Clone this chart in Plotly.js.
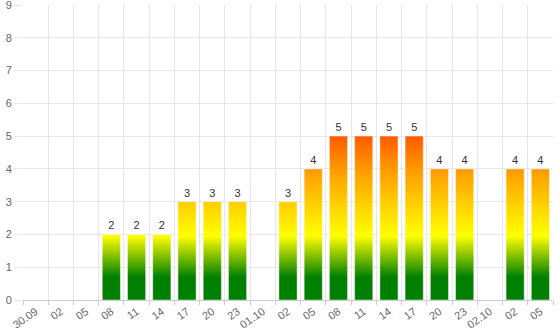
<!DOCTYPE html>
<html>
<head>
<meta charset="utf-8">
<script src="https://cdn.plot.ly/plotly-3.0.1.min.js"></script>
<style>html,body{margin:0;padding:0;background:#fff;}</style>
</head>
<body>
<div id="chart" style="width:560px;height:336px;"></div>
<script>
// Data
var tickLabels = ['30.09','02','05','08','11','14','17','20','23','01.10','02','05','08','11','14','17','20','23','02.10','02','05'];
var values     = [0,0,0,2,2,2,3,3,3,0,3,4,5,5,5,5,4,4,0,4,4];
// colour stops along the value axis (value, colour)
var gradValues = [0, 0.7, 1.95, 3, 4, 5];
var gradColors = ['#008000','#008000','#ffff00','#ffcc00','#ff9900','#ff5a00'];

var slots = tickLabels.map(function(_, i){ return i; });
var labels = values.map(function(v){ return v > 0 ? String(v) : ''; });

var trace = {
  type: 'bar',
  x: slots,
  y: values,
  text: labels,
  textposition: 'outside',
  textfont: {family: 'Liberation Sans, Arial, sans-serif', size: 11, color: '#333333'},
  cliponaxis: false,
  marker: {color: '#ffff00', line: {color: 'rgba(255,255,255,0.45)', width: 1}},
  hoverinfo: 'none'
};

var layout = {
  width: 560, height: 336,
  margin: {l: 23, r: 7, t: 5, b: 36},
  paper_bgcolor: '#ffffff', plot_bgcolor: '#ffffff',
  font: {family: 'Liberation Sans, Arial, sans-serif', size: 11, color: '#666666'},
  showlegend: false,
  bargap: 0.28,
  xaxis: {
    type: 'category',
    tickmode: 'array', tickvals: slots, ticktext: tickLabels,
    tickson: 'boundaries',
    showgrid: true, gridcolor: '#e6e6e6', gridwidth: 1,
    ticks: 'outside', ticklen: 4, tickcolor: '#cccccc',
    tickangle: -35,
    showline: true, linecolor: '#cccccc', linewidth: 1,
    zeroline: false,
    ticklabeloverflow: 'allow',
    tickfont: {size: 11, color: '#666666'},
    range: [-0.5, slots.length - 0.5]
  },
  yaxis: {
    range: [0, 9], dtick: 1, tick0: 0,
    showgrid: true, gridcolor: '#e6e6e6', gridwidth: 1,
    ticks: 'outside', ticklen: 8, tickcolor: '#e6e6e6',
    zeroline: false, showline: false,
    ticklabeloverflow: 'allow',
    tickfont: {size: 11, color: '#666666'}
  }
};

Plotly.newPlot('chart', [trace], layout, {displayModeBar: false, staticPlot: true}).then(function(gd){
  var ya = gd._fullLayout.yaxis;
  var svgNS = 'http://www.w3.org/2000/svg';
  var defs = document.querySelector('.main-svg defs');
  var g = document.createElementNS(svgNS, 'linearGradient');
  g.setAttribute('id', 'barGrad');
  g.setAttribute('gradientUnits', 'userSpaceOnUse');
  g.setAttribute('x1', '0'); g.setAttribute('x2', '0');
  var y0 = ya.c2p(gradValues[0]);
  var y1 = ya.c2p(gradValues[gradValues.length - 1]);
  g.setAttribute('y1', String(y0));
  g.setAttribute('y2', String(y1));
  var span = gradValues[gradValues.length - 1] - gradValues[0];
  gradValues.forEach(function(v, i){
    var s = document.createElementNS(svgNS, 'stop');
    s.setAttribute('offset', String((v - gradValues[0]) / span));
    s.setAttribute('stop-color', gradColors[i]);
    g.appendChild(s);
  });
  defs.appendChild(g);
  document.querySelectorAll('.barlayer .point path').forEach(function(p){
    p.style.fill = 'url(#barGrad)';
  });
});
</script>
</body>
</html>
